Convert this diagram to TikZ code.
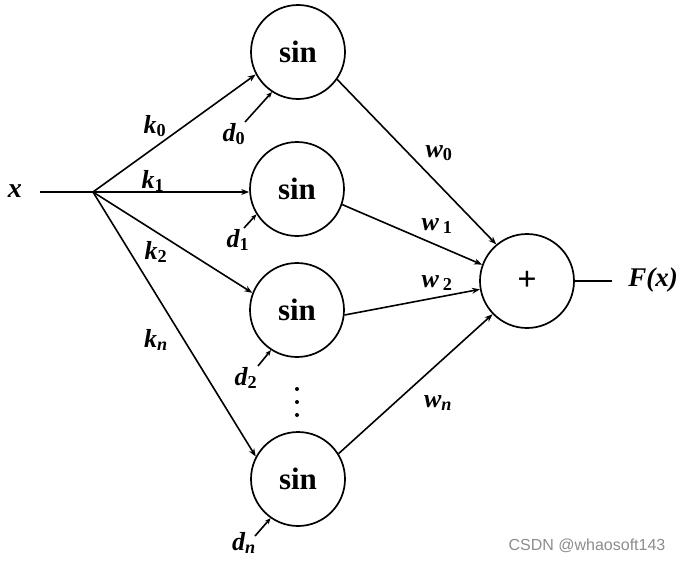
\documentclass[tikz,border=0pt]{standalone}
\usepackage{fontspec}
\setmainfont{Liberation Serif}
\newfontfamily\wmfont{Liberation Sans}
\usetikzlibrary{arrows.meta}
\begin{document}
\begin{tikzpicture}[x=1pt,y=-1pt,
  unit/.style={draw,circle,line width=1.7pt,minimum size=94pt,inner sep=0pt,font=\fontsize{31}{31}\selectfont\bfseries},
  conn/.style={line width=1.6pt,-{Stealth[length=8pt,width=6pt]}},
  bias/.style={line width=1.6pt,-{Stealth[length=6pt,width=5pt]}},
  lab/.style={font=\fontsize{26}{26}\selectfont\bfseries\itshape,inner sep=0pt},
  dot/.style={fill,circle,inner sep=0pt,minimum size=4pt}]
\useasboundingbox (0,0) rectangle (682,562);
\node[unit] (s0) at (298,52) {sin};
\node[unit] (s1) at (297,189) {sin};
\node[unit] (s2) at (297,310) {sin};
\node[unit] (sn) at (298,479) {sin};
\node[unit,font=\fontsize{34}{34}\selectfont\bfseries] (p) at (527,281) {+};
\node[lab,font=\fontsize{28}{28}\selectfont\bfseries\itshape] (x) at (15,191) {x};
\coordinate (xin) at (40,192);
\coordinate (J) at (93,192);
\draw[line width=1.6pt] (xin) -- (J);
\draw[conn] (J) -- (s0.208);
\draw[conn] (J) -- (s1.west|-J);
\draw[conn] (J) -- (s2.159);
\draw[conn] (J) -- (sn.152);
\node[lab] (k0) at (155,126) {k\textsubscript{\upshape 0}};
\node[lab] (k1) at (153,181) {k\textsubscript{\upshape 1}};
\node[lab] (k2) at (156,252) {k\textsubscript{\upshape 2}};
\node[lab] (kn) at (156,340) {k\textsubscript{n}};
\draw[conn] (s0.-35) -- (p.130);
\draw[conn] (s1.-19) -- (p.160);
\draw[conn] (s2.-6) -- (p.190);
\draw[conn] (sn.32) -- (p.224);
\node[lab] (w0) at (439,153) {w\textsubscript{\upshape 0}};
\node[lab] (w1) at (437,226) {w\hspace{4pt}\textsubscript{\upshape 1}};
\node[lab] (w2) at (437,283) {w\hspace{4pt}\textsubscript{\upshape 2}};
\node[lab] (wn) at (438,403) {w\textsubscript{n}};
\coordinate (d0s) at (245,122);
\coordinate (d1s) at (244,228);
\coordinate (d2s) at (258,366);
\coordinate (dns) at (255,536);
\draw[bias] (d0s) -- (s0.237);
\draw[bias] (d1s) -- (s1.212);
\draw[bias] (d2s) -- (s2.237);
\draw[bias] (dns) -- (sn.235);
\node[lab] (d0) at (234,134) {d\textsubscript{\upshape 0}};
\node[lab] (d1) at (238,240) {d\textsubscript{\upshape 1}};
\node[lab] (d2) at (246,378) {d\textsubscript{\upshape 2}};
\node[lab] (dn) at (244,543) {d\textsubscript{n}};
\node[dot] (e1) at (297,389) {};
\node[dot] (e2) at (297,402) {};
\node[dot] (e3) at (297,415) {};
\coordinate (fo) at (612,281);
\draw[line width=1.6pt] (p.east) -- (fo);
\node[lab,font=\fontsize{27}{27}\selectfont\bfseries\itshape] (F) at (653,280) {F(x)};
\node[font=\wmfont\fontsize{16}{16}\selectfont,text=black!45,inner sep=0pt] (wm) at (587,546) {CSDN @whaosoft143};
\end{tikzpicture}
\end{document}
